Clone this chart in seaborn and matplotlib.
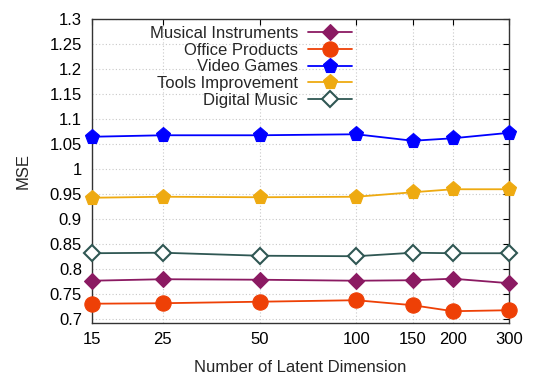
import numpy as np
import pandas as pd
import matplotlib
matplotlib.use("Agg")
import matplotlib.pyplot as plt
import seaborn as sns
from matplotlib.ticker import FixedLocator, FuncFormatter, NullLocator

# values
dims = [15, 25, 50, 100, 150, 200, 300]
musical = [0.777, 0.780, 0.779, 0.777, 0.778, 0.781, 0.772]
office = [0.731, 0.732, 0.735, 0.738, 0.728, 0.716, 0.718]
video = [1.065, 1.068, 1.068, 1.070, 1.057, 1.062, 1.073]
tools = [0.943, 0.945, 0.944, 0.945, 0.954, 0.960, 0.960]
digital = [0.832, 0.833, 0.827, 0.826, 0.833, 0.832, 0.832]
y_ticks = [0.7, 0.75, 0.8, 0.85, 0.9, 0.95, 1.0, 1.05, 1.1, 1.15, 1.2, 1.25, 1.3]

series = [
    ("Musical Instruments", musical, "#8b1a62", "D", 8.5, True),
    ("Office Products", office, "#ee4006", "o", 11, True),
    ("Video Games", video, "#0000ff", "p", 11, True),
    ("Tools Improvement", tools, "#eeaa11", "p", 11, True),
    ("Digital Music", digital, "#2f5753", "D", 8.5, False),
]

sns.set_style("white")
plt.rcParams['font.family'] = ['Liberation Sans', 'DejaVu Sans']
plt.rcParams['font.size'] = 12

fig = plt.figure(figsize=(5.4, 3.77), dpi=100)
ax = fig.add_axes([0.1698, 0.144, 0.7737, 0.8048])

for name, vals, col, mk, ms, filled in series:
    df = pd.DataFrame({"dim": dims, "mse": vals})
    sns.lineplot(data=df, x="dim", y="mse", ax=ax, color=col, marker=mk,
                 markersize=ms, linewidth=1.3, label=name,
                 markerfacecolor=col if filled else "white",
                 markeredgecolor=col, markeredgewidth=1.5 if not filled else 0.8,
                 clip_on=False, zorder=3)

ax.set_xscale("log")
ax.set_xlim(15, 300)
ax.xaxis.set_major_locator(FixedLocator(dims))
ax.xaxis.set_minor_locator(NullLocator())
ax.xaxis.set_major_formatter(FuncFormatter(lambda v, p: "%g" % v))
ax.set_ylim(0.693, 1.3)
ax.yaxis.set_major_locator(FixedLocator(y_ticks))
ax.yaxis.set_major_formatter(FuncFormatter(lambda v, p: "%g" % v))

ax.grid(True, color="#c8c8c8", linestyle=(0, (1, 2)), linewidth=0.8)
ax.tick_params(direction="in", length=4, width=0.8, top=True, right=True,
               labelsize=12, pad=7, colors="black")
for sp in ax.spines.values():
    sp.set_color("#333333")
    sp.set_linewidth(1.0)

ax.set_xlabel("Number of Latent Dimension", fontsize=12, labelpad=9)
ax.set_ylabel("MSE", fontsize=12, labelpad=14)

leg = ax.legend(loc="upper right", bbox_to_anchor=(0.622, 0.979), frameon=False,
                markerfirst=False, handlelength=2.6, handletextpad=0.6,
                labelspacing=0.11, borderpad=0, borderaxespad=0,
                fontsize=12)

fig.savefig("out.png", dpi=100)
